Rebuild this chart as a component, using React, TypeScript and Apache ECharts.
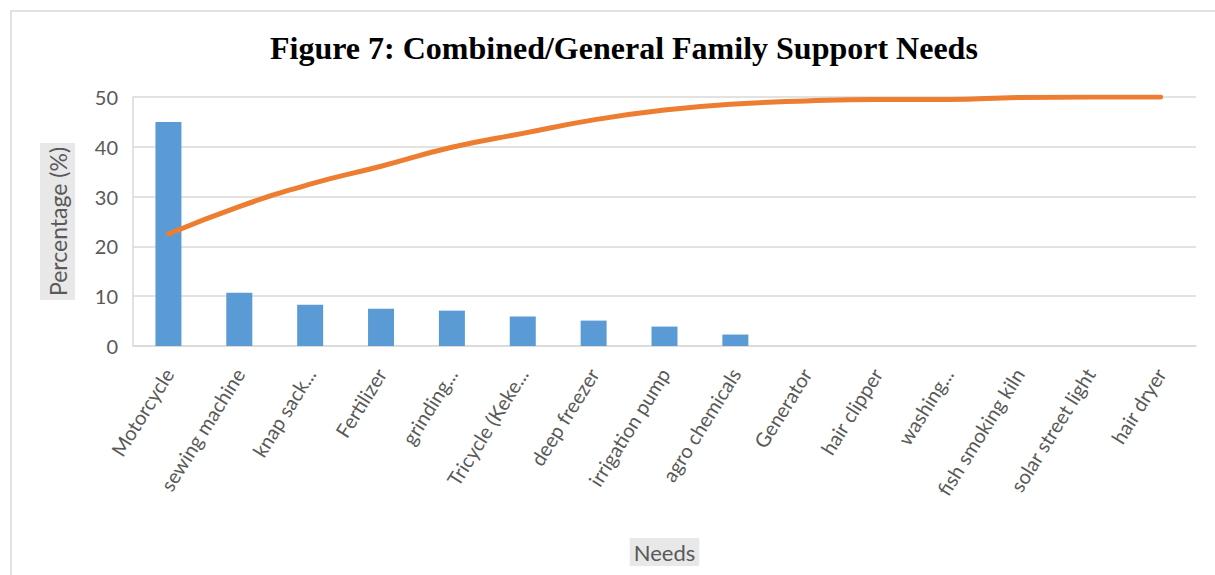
import React, { useEffect, useRef } from "react";
import * as echarts from "echarts";

const categories = [
  "Motorcycle",
  "sewing machine",
  "knap sack...",
  "Fertilizer",
  "grinding...",
  "Tricycle (Keke...",
  "deep freezer",
  "irrigation pump",
  "agro chemicals",
  "Generator",
  "hair clipper",
  "washing...",
  "fish smoking kiln",
  "solar street light",
  "hair dryer",
];

const barValues = [45, 10.7, 8.3, 7.5, 7.1, 5.9, 5.1, 3.9, 2.3, 0, 0, 0, 0, 0, 0];
const lineValues = [22.5, 28, 32.5, 36.1, 39.9, 42.7, 45.4, 47.4, 48.6, 49.2, 49.5, 49.5, 49.9, 50, 50];

const yTicks = { min: 0, max: 50, interval: 10 };

const FONT = "Lato, 'Open Sans', sans-serif";

export default function App() {
  const ref = useRef<HTMLDivElement>(null);

  useEffect(() => {
    if (!ref.current) return;
    const chart = echarts.init(ref.current, undefined, { renderer: "svg" });
    chart.setOption({
      animation: false,
      backgroundColor: "#ffffff",
      title: {
        text: "Figure 7: Combined/General Family Support Needs",
        left: 265,
        top: 27,
        textStyle: {
          fontFamily: "'Liberation Serif', 'Times New Roman', serif",
          fontWeight: "bold",
          fontSize: 32,
          color: "#000000",
        },
      },
      graphic: [
        {
          type: "rect",
          shape: { x: 11, y: 11, width: 1240, height: 600 },
          style: { fill: "none", stroke: "#d9d9d9", lineWidth: 1.5 },
          silent: true,
        },
      ],
      grid: { left: 133, right: 19, top: 97, bottom: 229, containLabel: false },
      xAxis: {
        type: "category",
        data: categories,
        name: "Needs",
        nameLocation: "middle",
        nameGap: 192,
        nameTextStyle: {
          fontFamily: FONT,
          fontSize: 22,
          color: "#595959",
          backgroundColor: "#e8e8e8",
          padding: [3, 4, 3, 4],
        },
        axisLine: { show: true, lineStyle: { color: "#d9d9d9", width: 1.5 } },
        axisTick: { show: false },
        axisLabel: {
          interval: 0,
          rotate: 58,
          margin: 24,
          fontFamily: FONT,
          fontSize: 20,
          color: "#595959",
        },
      },
      yAxis: {
        type: "value",
        min: yTicks.min,
        max: yTicks.max,
        interval: yTicks.interval,
        name: "Percentage (%)",
        nameLocation: "middle",
        nameRotate: 90,
        nameGap: 58,
        nameTextStyle: {
          fontFamily: FONT,
          fontSize: 23,
          color: "#595959",
          backgroundColor: "#e8e8e8",
          padding: [6, 4, 6, 4],
        },
        axisLine: { show: true, lineStyle: { color: "#d9d9d9", width: 1.5 } },
        axisTick: { show: false },
        axisLabel: {
          margin: 15,
          fontFamily: FONT,
          fontSize: 20,
          color: "#595959",
        },
        splitLine: { show: true, lineStyle: { color: "#d9d9d9", width: 1.5 } },
      },
      series: [
        {
          type: "bar",
          data: barValues,
          barWidth: 26,
          itemStyle: { color: "#5B9BD5" },
        },
        {
          type: "line",
          data: lineValues,
          smooth: true,
          showSymbol: false,
          symbol: "none",
          lineStyle: { color: "#ED7D31", width: 5, cap: "round" },
        },
      ],
    });
    return () => chart.dispose();
  }, []);

  return (
    <div
      ref={ref}
      style={{ position: "absolute", left: 0, top: 0, width: 1215, height: 575 }}
    />
  );
}
